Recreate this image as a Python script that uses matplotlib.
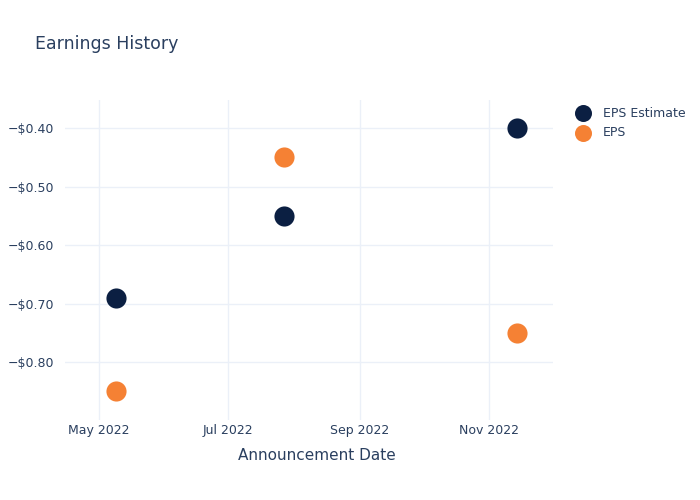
import matplotlib
matplotlib.use("Agg")
import matplotlib.pyplot as plt
import matplotlib.dates as mdates
from matplotlib.ticker import FuncFormatter
import numpy as np

dates = np.array(["2022-05-09", "2022-07-27", "2022-11-14"], dtype="datetime64[D]")
eps_estimate = [-0.69, -0.55, -0.40]
eps_actual = [-0.85, -0.45, -0.75]

text_col = "#2a3f5f"
grid_col = "#ebf0f8"

fig = plt.figure(figsize=(7, 5), dpi=100)
ax = fig.add_axes([65 / 700, 80 / 500, 488 / 700, 320 / 500])

ax.scatter(dates, eps_estimate, s=210, color="#0b1f42", label="EPS Estimate", zorder=3, linewidths=0)
ax.scatter(dates, eps_actual, s=210, color="#f58134", label="EPS", zorder=3, linewidths=0)

ax.set_xlim(np.datetime64("2022-04-15"), np.datetime64("2022-12-01"))
ax.set_ylim(-0.899, -0.352)
ax.set_yticks([-0.8, -0.7, -0.6, -0.5, -0.4])
ax.yaxis.set_major_formatter(FuncFormatter(lambda v, p: "\u2212$%.2f" % abs(v)))
ax.xaxis.set_major_locator(mdates.MonthLocator(bymonth=[5, 7, 9, 11]))
ax.xaxis.set_major_formatter(mdates.DateFormatter("%b %Y"))

for s in ax.spines.values():
    s.set_visible(False)
ax.grid(True, color=grid_col, linewidth=1)
ax.set_axisbelow(True)
ax.tick_params(axis="y", length=0, labelsize=9, colors=text_col, pad=8)
ax.tick_params(axis="x", length=0, labelsize=9, colors=text_col, pad=3)

ax.set_xlabel("Announcement Date", fontsize=11, color=text_col)
ax.xaxis.set_label_coords((317 - 65) / 488, -(456 - 420) / 320)
ax.xaxis.label.set_va("center")
fig.text(35 / 700, 1 - 44 / 500, "Earnings History", fontsize=12.5, color=text_col, va="center")

leg = ax.legend(loc="upper left", bbox_to_anchor=(1.025, 0.995), frameon=False,
                fontsize=9, labelcolor=text_col, handletextpad=0.6, labelspacing=0.5,
                borderaxespad=0)
for h in leg.legend_handles:
    h.set_sizes([150])

fig.savefig("out.png")
